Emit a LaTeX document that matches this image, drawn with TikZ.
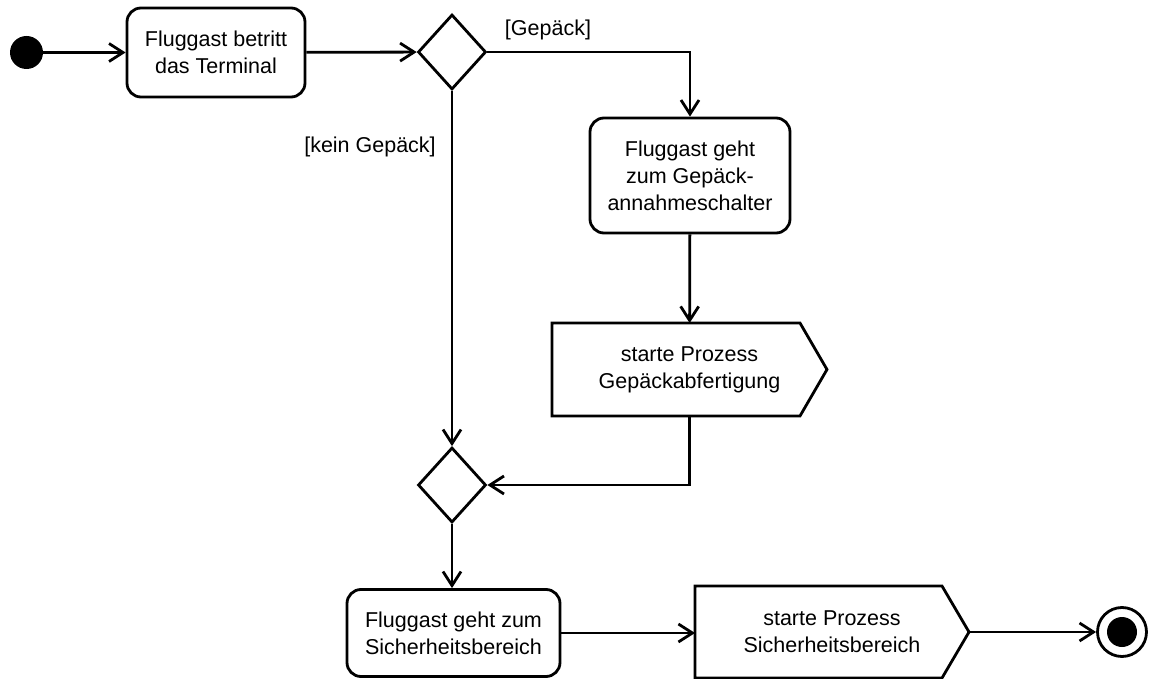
\documentclass[tikz,border=0pt]{standalone}
\usepackage{fontspec}
\setmainfont{Liberation Sans}
\usetikzlibrary{arrows.meta,shapes.geometric,calc}
\begin{document}
\begin{tikzpicture}[x=1pt,y=-1pt,
  every node/.style={font=\fontsize{21.5}{27}\selectfont},
  action/.style={draw, rounded corners=14pt, line width=2.8pt, align=center, inner sep=0pt},
  decision/.style={diamond, draw, line width=2.8pt, inner sep=0pt, minimum width=68pt, minimum height=75pt},
  sendsig/.style={align=center, inner sep=0pt, outer sep=0pt},
  flow/.style={line width=2.8pt, -{Straight Barb[length=14pt,width=18pt]}},
  guard/.style={inner sep=0pt}
]
\fill[white] (0,0) rectangle (1152,679);
\useasboundingbox (0,0) rectangle (1152,679);

% start and end
\node[circle, fill=black, minimum size=33pt, inner sep=0pt] (init) at (26.5,52.5) {};
\node[circle, draw, line width=2.8pt, minimum size=49pt, inner sep=0pt] (final) at (1122,632) {};
\fill (final.center) circle (15);

% actions
\node[action, minimum width=178pt, minimum height=89pt] (act1) at (216,52.5) {Fluggast betritt\\das Terminal};
\node[action, minimum width=200pt, minimum height=115pt] (act2) at (690,175.5) {Fluggast geht\\zum Gepäck-\\annahmeschalter};
\node[action, minimum width=213pt, minimum height=87pt] (act3) at (453.5,633) {Fluggast geht zum\\Sicherheitsbereich};

% decision / merge
\node[decision] (dec) at (452,52) {};
\node[decision] (merge) at (452,485) {};

% send signal actions
\node[sendsig, minimum width=275pt, minimum height=93pt] (sig1) at (689.5,369.5) {starte Prozess\\Gepäckabfertigung};
\node[sendsig, minimum width=274pt, minimum height=92pt] (sig2) at (832,632) {starte Prozess\\Sicherheitsbereich};
\foreach \s in {sig1,sig2}{
  \draw[line width=2.8pt] (\s.north west) -- ($(\s.north east)+(-27,0)$) -- (\s.east)
    -- ($(\s.south east)+(-27,0)$) -- (\s.south west) -- cycle;
}

% guards
\node[guard] (gyes) at (548,30) {[Gepäck]};
\node[guard] (gno) at (370,147) {[kein Gepäck]};

% control flow
\draw[flow] (init) -- (act1);
\draw[flow] (act1) -- (dec);
\draw[flow] (dec.east) -| (act2.north);
\draw[flow] (dec.south) -- (merge.north);
\draw[flow] (act2) -- (sig1);
\draw[flow] (sig1.south) |- (merge.east);
\draw[flow] (merge.south) -- (merge.south |- act3.north);
\draw[flow] (act3.east) -- (act3.east -| sig2.west);
\draw[flow] (sig2.east) -- (final);
\end{tikzpicture}
\end{document}
